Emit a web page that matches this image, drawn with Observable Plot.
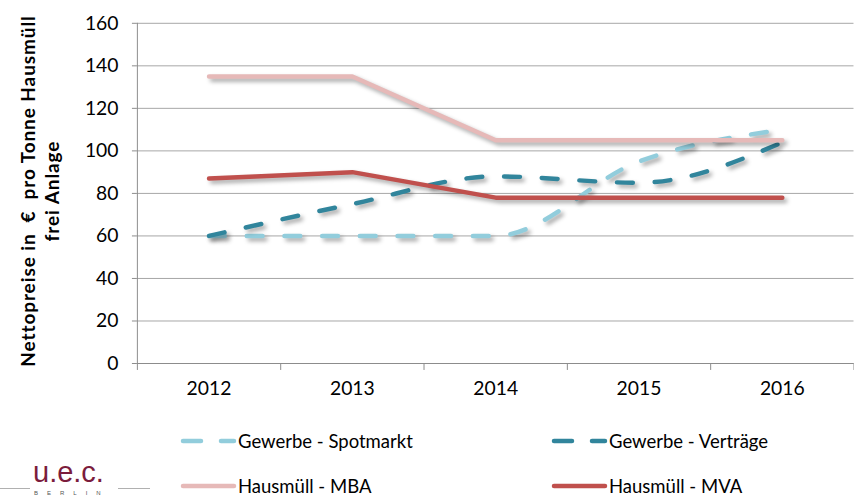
<!DOCTYPE html>
<html><head><meta charset="utf-8">
<script src="https://cdn.jsdelivr.net/npm/d3@7"></script>
<script src="https://cdn.jsdelivr.net/npm/@observablehq/plot@0.6"></script>
<style>
html,body{margin:0;padding:0;background:#fff;overflow:hidden;width:854px;height:497px;}
#wrap{position:relative;width:854px;height:497px;font-family:Lato,"Open Sans",sans-serif;color:#000;overflow:hidden;}
#chart{position:absolute;left:0;top:0;}
.ytitle{position:absolute;font-weight:bold;font-size:19px;letter-spacing:0.9px;white-space:nowrap;transform:translate(-50%,-50%) rotate(-90deg);text-align:center;line-height:24px;}
.leg{position:absolute;display:flex;align-items:center;font-size:18.5px;white-space:nowrap;height:24px;}
.leg svg{display:block;margin-right:1px;}
.logo{position:absolute;left:0;top:455px;width:150px;height:42px;}
.logo .uec{position:absolute;left:33px;top:1px;font-size:29px;color:#7b1c3c;font-family:"Liberation Sans",Arial,sans-serif;}
.logo .ln1{position:absolute;left:0;top:33px;width:30px;height:1px;background:#b0b0b0;}
.logo .ln2{position:absolute;left:118px;top:33px;width:32px;height:1px;background:#b0b0b0;}
.logo .berlin{position:absolute;left:34px;top:35px;font-size:6px;letter-spacing:9px;color:#555;font-family:"Liberation Sans",Arial,sans-serif;}
svg .shadow path{filter:drop-shadow(3px 3px 2px rgba(0,0,0,0.35));}
</style></head>
<body><div id="wrap"><div id="chart"></div>
<div class="ytitle" style="left:40px;top:191px">Nettopreise in &nbsp;€ &nbsp;pro Tonne Hausmüll<br>frei Anlage</div>
<div class="logo"><div class="ln1"></div><div class="uec">u.e.c.</div><div class="ln2"></div><div class="berlin">BERLIN</div></div>
</div>
<script>
const years = [2012, 2013, 2014, 2015, 2016];
const yTicks = [0, 20, 40, 60, 80, 100, 120, 140, 160];
const seriesNames = ["Gewerbe - Spotmarkt", "Gewerbe - Verträge", "Hausmüll - MBA", "Hausmüll - MVA"];
const spotmarkt = [60, 60, 60, 95, 110];
const vertraege = [60, 75, 88, 85, 104];
const mba = [135, 135, 105, 105, 105];
const mva = [87, 90, 78, 78, 78];

const seriesValues = [spotmarkt, vertraege, mba, mva];
const styles = [
  {color: "#92CDDC", dash: "16,22", curve: "monotone-x"},
  {color: "#31859C", dash: "16,22", curve: "monotone-x"},
  {color: "#E6B9B8", dash: null, curve: "linear"},
  {color: "#C0504D", dash: null, curve: "linear"}
];

const boundaries = years.map(y => y - 0.5).concat([years[years.length - 1] + 0.5]);

const lineMarks = seriesNames.map((name, i) => {
  const data = years.map((yr, j) => ({year: yr, value: seriesValues[i][j]}));
  return Plot.line(data, {
    x: "year", y: "value",
    stroke: styles[i].color, strokeWidth: 4.5,
    strokeDasharray: styles[i].dash || undefined,
    strokeLinecap: "round", strokeLinejoin: "round",
    curve: styles[i].curve,
    className: "shadow"
  });
});

const chart = Plot.plot({
  width: 861, height: 410,
  marginLeft: 138, marginRight: 0.5, marginTop: 23, marginBottom: 44,
  style: {fontFamily: "Lato, 'Open Sans', sans-serif", fontSize: "19.5px", color: "#000", background: "#fff"},
  x: {type: "linear", domain: [boundaries[0], boundaries[boundaries.length - 1]]},
  y: {domain: [0, 160]},
  marks: [
    Plot.gridY(yTicks, {stroke: "#a6a6a6", strokeOpacity: 1, strokeWidth: 1}),
    Plot.ruleX([boundaries[0]], {stroke: "#8c8c8c", strokeWidth: 1}),
    Plot.ruleY([0], {stroke: "#8c8c8c", strokeWidth: 1}),
    Plot.axisY({ticks: yTicks, tickSize: 5, tickPadding: 14, stroke: "#8c8c8c", fill: "#000", label: null, tickFormat: d => String(d)}),
    Plot.axisX({ticks: boundaries, tickSize: 7, stroke: "#8c8c8c", tickFormat: () => "", label: null}),
    Plot.axisX({ticks: years, tickSize: 0, tickPadding: 18, fill: "#000", tickFormat: d => String(d), label: null}),
    ...lineMarks
  ]
});
document.getElementById("chart").appendChild(chart);

// legend
const legPos = [[180, 429], [551, 429], [180, 474], [551, 474]];
const wrap = document.getElementById("wrap");
seriesNames.forEach((name, i) => {
  const d = document.createElement("div");
  d.className = "leg";
  d.style.left = legPos[i][0] + "px";
  d.style.top = legPos[i][1] + "px";
  const dash = styles[i].dash ? `stroke-dasharray="18,20"` : "";
  d.innerHTML = `<svg width="57" height="10"><line x1="3" x2="54" y1="5" y2="5" stroke="${styles[i].color}" stroke-width="4.5" stroke-linecap="round" ${dash}/></svg><span>${name}</span>`;
  wrap.appendChild(d);
});
</script>
</body></html>
